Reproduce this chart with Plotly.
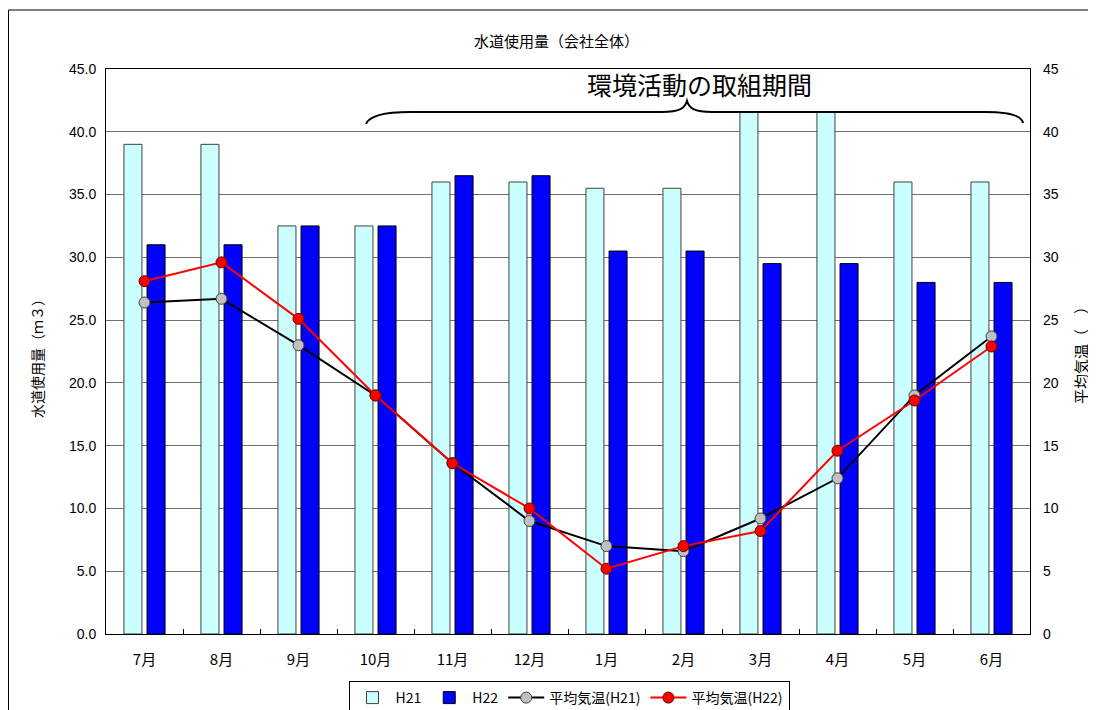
import plotly.graph_objects as go

months = ["7月", "8月", "9月", "10月", "11月", "12月", "1月", "2月", "3月", "4月", "5月", "6月"]
water_h21 = [39.0, 39.0, 32.5, 32.5, 36.0, 36.0, 35.5, 35.5, 41.6, 41.6, 36.0, 36.0]
water_h22 = [31.0, 31.0, 32.5, 32.5, 36.5, 36.5, 30.5, 30.5, 29.5, 29.5, 28.0, 28.0]
temp_h21 = [26.4, 26.7, 23.0, 19.0, 13.6, 9.0, 7.0, 6.6, 9.2, 12.4, 19.0, 23.7]
temp_h22 = [28.1, 29.6, 25.1, 19.0, 13.6, 10.0, 5.2, 7.0, 8.2, 14.6, 18.6, 22.9]
left_ticks = [0, 5, 10, 15, 20, 25, 30, 35, 40, 45]

# page offset from the default body margin of the html page
OFF = 8
W, H = 1096 - OFF, 710 - OFF
# plot area in page pixel coordinates
L, R, T, B = 106, 1030, 69, 634


def px(x):
    return (x - L) / (R - L)


def py(y):
    return (B - y) / (B - T)


CJK = "Noto Sans CJK JP"
ARIAL = "Liberation Sans, Arial"

fig = go.Figure()
fig.add_trace(go.Bar(
    x=months, y=water_h21, name="H21",
    marker=dict(color="#CCFFFF", line=dict(color="#404040", width=1)),
))
fig.add_trace(go.Bar(
    x=months, y=water_h22, name="H22",
    marker=dict(color="#0000FF", line=dict(color="#000000", width=1)),
))
fig.add_trace(go.Scatter(
    x=months, y=temp_h21, name="平均気温(H21)", yaxis="y2",
    mode="lines+markers",
    line=dict(color="#000000", width=2),
    marker=dict(color="#C0C0C0", size=11, line=dict(color="#404040", width=1)),
))
fig.add_trace(go.Scatter(
    x=months, y=temp_h22, name="平均気温(H22)", yaxis="y2",
    mode="lines+markers",
    line=dict(color="#FF0000", width=2),
    marker=dict(color="#FF0000", size=11, line=dict(color="#600000", width=1)),
))

# brace path (page pixel coordinates converted to paper)
pts = [
    ("M", [(366, 124)]),
    ("C", [(370, 114), (390, 112), (410, 112)]),
    ("L", [(662, 112)]),
    ("C", [(680, 112), (685, 108), (687, 101)]),
    ("C", [(689, 108), (694, 112), (712, 112)]),
    ("L", [(985, 112)]),
    ("C", [(1010, 112), (1022, 116), (1023, 123)]),
]
path = ""
for cmd, ps in pts:
    path += cmd + " " + " ".join(f"{px(a):.5f},{py(b):.5f}" for a, b in ps) + " "

shapes = [
    dict(type="path", xref="paper", yref="paper", path=path.strip(),
         line=dict(color="#000000", width=2), layer="above"),
    dict(type="rect", xref="paper", yref="paper",
         x0=px(OFF + 0.5), x1=px(1100), y0=py(714), y1=py(10),
         line=dict(color="#000000", width=1), layer="below"),
]

ann_common = dict(xref="paper", yref="paper", showarrow=False,
                  xanchor="center", yanchor="middle")
annotations = [
    dict(text="水道使用量（会社全体）", x=px(556), y=py(40),
         font=dict(family=CJK, size=15, color="#000000"), **ann_common),
    dict(text="環境活動の取組期間", x=px(699), y=py(84),
         font=dict(family=CJK, size=25, color="#000000"), **ann_common),
    dict(text="水道使用量（ｍ３）", x=px(37), y=py(355), textangle=-90,
         font=dict(family=CJK, size=14, color="#000000"), **ann_common),
    dict(text="平均気温（　）", x=px(1080), y=py(352), textangle=-90,
         font=dict(family=CJK, size=15, color="#000000"), **ann_common),
]

fig.update_layout(
    width=W, height=H,
    margin=dict(l=L - OFF, r=W - (R - OFF), t=T - OFF, b=H - (B - OFF), autoexpand=False),
    paper_bgcolor="#FFFFFF", plot_bgcolor="#FFFFFF",
    barmode="group", bargap=0.40, bargroupgap=0.22,
    font=dict(family=ARIAL, size=13, color="#000000"),
    xaxis=dict(
        type="category", range=[-0.5, len(months) - 0.5],
        showline=True, mirror=True, linecolor="#000000", linewidth=1,
        ticks="inside", tickson="boundaries", ticklen=5, tickcolor="#000000",
        tickfont=dict(family=CJK, size=15), showgrid=False, automargin=False,
        ticklabelstandoff=12,
    ),
    yaxis=dict(
        range=[0, 45], tickvals=left_ticks, tickformat=".1f",
        showline=True, mirror=True, linecolor="#000000", linewidth=1,
        showgrid=True, gridcolor="#707070", gridwidth=1, zeroline=False,
        ticks="", tickfont=dict(family=ARIAL, size=14), automargin=False,
        ticklabelstandoff=6,
    ),
    yaxis2=dict(
        range=[0, 45], tickvals=left_ticks, overlaying="y", side="right",
        showgrid=False, zeroline=False, showline=False, automargin=False,
        tickfont=dict(family=ARIAL, size=14), ticklabelstandoff=12,
    ),
    legend=dict(
        orientation="h", x=px(569), xanchor="center", y=py(681), yanchor="top",
        bordercolor="#000000", borderwidth=1, bgcolor="#FFFFFF",
        font=dict(family=CJK, size=14), itemwidth=36, tracegroupgap=0,
    ),
    shapes=shapes,
    annotations=annotations,
)

fig.write_html("out.html")
